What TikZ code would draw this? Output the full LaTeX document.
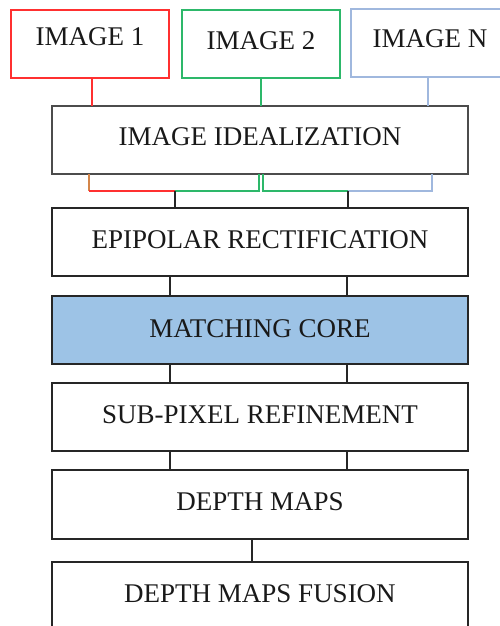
\documentclass[tikz,border=0pt]{standalone}
\usepackage{fontspec}
\setmainfont{Liberation Serif}
\usetikzlibrary{positioning}

\definecolor{imgred}{HTML}{FF3030}
\definecolor{imggreen}{HTML}{2DB86A}
\definecolor{imgblue}{HTML}{A0B8DE}
\definecolor{coreblue}{HTML}{9DC3E6}
\definecolor{linkorange}{HTML}{D4864A}

\begin{document}
\begin{tikzpicture}[%
	x=1pt, y=1pt,
	font=\fontsize{27}{29}\selectfont,
	text=black!90,
	img/.style={draw, line width=1.2pt, minimum width=158pt, minimum height=68pt, inner sep=0pt, outer sep=0pt, text height=18pt, text depth=#1},
	img/.default=10pt,
	stage/.style={draw=black!85, line width=1.3pt, minimum width=416pt, minimum height=68pt, inner sep=0pt, outer sep=0pt, text height=18pt, text depth=6pt},
	link/.style={draw=black!85, line width=1.2pt},
	lnred/.style={draw=imgred, line width=1.1pt},
	lngreen/.style={draw=imggreen, line width=1.1pt},
	lnblue/.style={draw=imgblue, line width=1.1pt},
	lnorange/.style={draw=linkorange, line width=1.1pt}
]
\useasboundingbox (0,0) rectangle (499,-626);

\node[img=14pt, draw=imgred] (img1) at (90,-44) {IMAGE 1};
\node[img=6pt, draw=imggreen] (img2) at (261,-44) {IMAGE 2};
\node[img=9pt, draw=imgblue] (imgN) at (430,-43) {IMAGE N};

\node[stage, line width=1.8pt, draw=black!70, text depth=7pt] (ideal) at (260,-140) {IMAGE IDEALIZATION};
\node[stage] (epi) [below=34pt of ideal] {EPIPOLAR RECTIFICATION};
\node[stage, fill=coreblue, text depth=4pt] (match) [below=20pt of epi] {MATCHING CORE};
\node[stage] (sub) [below=19pt of match] {SUB-PIXEL REFINEMENT};
\node[stage, text depth=7pt, minimum height=69pt] (depth) [below=19pt of sub] {DEPTH MAPS};
\node[stage] (fusion) [below=23pt of depth] {DEPTH MAPS FUSION};

\coordinate (j1) at (175,-191);
\coordinate (j2) at (348,-191);

% images into idealization
\path[lnred] ([xshift=2pt]img1.south) -- ([xshift=2pt]img1.south |- ideal.north);
\path[lngreen] (img2.south) -- (img2.south |- ideal.north);
\path[lnblue] ([xshift=-2pt]imgN.south) -- ([xshift=-2pt]imgN.south |- ideal.north);

% pairs out of idealization
\path[lnorange] ([xshift=37pt]ideal.south west) -- ([xshift=37pt]ideal.south west |- j1);
\path[lnred] ([xshift=37pt]ideal.south west |- j1) -- (j1);
\path[lngreen] (j1) -| ([xshift=-1pt]ideal.south);
\path[lngreen] ([xshift=3pt]ideal.south) |- (j2);
\path[lnblue] (j2) -| ([xshift=172pt]ideal.south);
\path[link] (j1) -- (j1 |- epi.north);
\path[link] (j2) -- (j2 |- epi.north);

\foreach \a/\b in {epi/match, match/sub, sub/depth} {
	\path[link] ([xshift=-90pt]\a.south) -- ([xshift=-90pt]\b.north);
	\path[link] ([xshift=87pt]\a.south) -- ([xshift=87pt]\b.north);
}
\path[link] ([xshift=-8pt]depth.south) -- ([xshift=-8pt]fusion.north);

\end{tikzpicture}
\end{document}
